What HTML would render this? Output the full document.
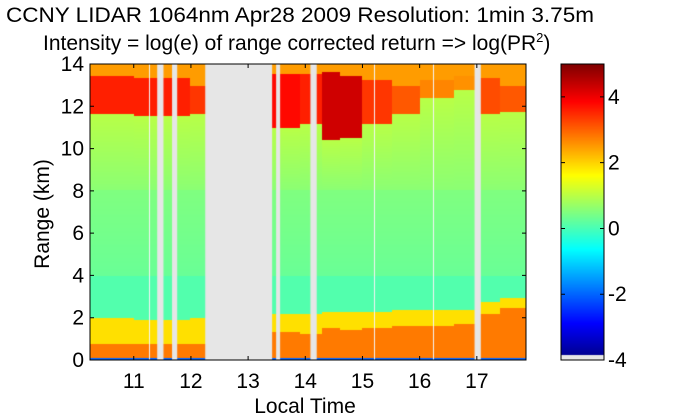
<!DOCTYPE html>
<html><head><meta charset="utf-8">
<style>
body{margin:0;background:#fff;width:700px;height:420px;overflow:hidden;font-family:"Liberation Sans",Arial,sans-serif}
#wrap{position:relative;width:700px;height:420px}
canvas{position:absolute;left:0;top:0}
svg{position:absolute;left:0;top:0}
</style></head>
<body>
<div id="wrap">
<canvas id="cv" width="700" height="420"></canvas>
<svg id="sv" width="700" height="420">
<text x="300" y="22" text-anchor="middle" font-size="21" textLength="588" lengthAdjust="spacingAndGlyphs">CCNY LIDAR 1064nm Apr28 2009 Resolution: 1min 3.75m</text>
<text x="43" y="50" font-size="21">Intensity = log(e) of range corrected return =&gt; log(PR<tspan dy="-8" font-size="13">2</tspan><tspan dy="8">)</tspan></text>
<text x="305" y="413" text-anchor="middle" font-size="21">Local Time</text>
<text transform="translate(49,214) rotate(-90)" text-anchor="middle" font-size="21">Range (km)</text>
<g id="axes"></g>
</svg>
</div>
<script>
// ---- data ----
const segStart  = [10.24, 11.0, 12.0, 13.43, 13.9, 14.3, 14.6, 15.0, 15.5, 16.0, 16.6, 17.07, 17.4];
const blTop     = [0.8, 0.75, 0.75, 1.3, 1.2, 1.5, 1.4, 1.5, 1.6, 1.6, 1.7, 2.2, 2.5];
const yellowTop = [2.0, 1.9, 2.0, 2.2, 2.2, 2.3, 2.3, 2.3, 2.4, 2.4, 2.4, 2.7, 2.9];
const cloudBase = [11.6, 11.5, 11.6, 11.0, 11.2, 10.4, 10.5, 11.2, 11.6, 12.4, 12.8, 11.6, 11.7];
const cloudTop  = [13.4, 13.3, 13.0, 13.5, 13.5, 13.6, 13.4, 13.2, 13.0, 13.2, 13.4, 13.3, 13.0];
const cloudVal  = [3.6, 3.6, 3.4, 3.8, 3.6, 4.3, 4.3, 3.4, 3.1, 2.7, 2.6, 3.2, 3.1];
const gaps      = [[11.41,11.52],[11.67,11.76],[12.25,13.42],[13.49,13.56],[14.09,14.2],[16.96,17.07]];
const thinLines = [11.26, 15.21, 16.23];
const xTicks = [11,12,13,14,15,16,17];
const yTicks = [0,2,4,6,8,10,12,14];
const cTicks = [-4,-2,0,2,4];
const X0=90, X1=526, Y0=64, Y1=360;
const T0=10.235, T1=17.86, CMIN=-4, CMAX=5;
const xs = t => X0 + (t-T0)/(T1-T0)*(X1-X0);
const ys = h => Y1 - h/14*(Y1-Y0);
const cs = v => 360 - (v-CMIN)/(CMAX-CMIN)*(360-64);
function jet(v){
  let n=(v-CMIN)/(CMAX-CMIN); n=Math.max(0,Math.min(1,n));
  const f=x=>Math.max(0,Math.min(1,x));
  const r=f(Math.min(4*n-1.5,-4*n+4.5)), g=f(Math.min(4*n-0.5,-4*n+3.5)), b=f(Math.min(4*n+0.5,-4*n+2.5));
  return `rgb(${Math.round(r*255)},${Math.round(g*255)},${Math.round(b*255)})`;
}
function seg(t){let i=0;for(let k=0;k<segStart.length;k++) if(t>=segStart[k]) i=k;return i;}
function val(t,h){
  const i=seg(t);
  if(h<0.12) return -2;
  if(h<blTop[i]) return 2.8;
  if(h<yellowTop[i]) return 1.9;
  if(h<4) return 0.1;
  if(h<8) return 0.3+0.2*(h-4)/4;
  if(h<cloudBase[i]) return 0.6+0.4*(h-8)/Math.max(0.1,cloudBase[i]-8);
  if(h<cloudTop[i]) return cloudVal[i];
  return 2.5;
}
const ctx=document.getElementById('cv').getContext('2d');
const step=2;
for(let x=X0;x<X1;x+=step){
  const t=T0+(x+step/2-X0)/(X1-X0)*(T1-T0);
  for(let y=Y0;y<Y1;y+=step){
    const h=(Y1-(y+step/2))/(Y1-Y0)*14;
    ctx.fillStyle=jet(val(t,h));
    ctx.fillRect(x,y,step,step);
  }
}
ctx.fillStyle='#e6e6e6';
gaps.forEach(g=>ctx.fillRect(xs(g[0]),Y0,xs(g[1])-xs(g[0]),Y1-Y0));
ctx.fillStyle='#f4f4f4';
thinLines.forEach(t=>ctx.fillRect(Math.round(xs(t)),Y0,1,Y1-Y0));
// colorbar
for(let y=64;y<356;y++){ctx.fillStyle=jet(CMAX-(y-64)/(360-64)*(CMAX-CMIN));ctx.fillRect(561,y,43,1);}
ctx.fillStyle='#e6e6e6';ctx.fillRect(561,355,43,5);

const NS='http://www.w3.org/2000/svg';
const ax=document.getElementById('axes');
function el(tag,attrs,txt){const e=document.createElementNS(NS,tag);for(const k in attrs)e.setAttribute(k,attrs[k]);if(txt!==undefined)e.textContent=txt;ax.appendChild(e);return e;}
const frame=el('rect',{x:X0,y:Y0,width:X1-X0,height:Y1-Y0,fill:'none',stroke:'#000','stroke-width':1});


xTicks.forEach(t=>{
  const x=xs(t);
  const l=el('path',{d:`M${x},${Y1}v-4M${x},${Y0}v4`,stroke:'#000'});
  
  
  const tx=el('text',{x:x,y:388,'text-anchor':'middle','font-size':21},String(t));
  
  
});
yTicks.forEach(v=>{
  const y=ys(v);
  const l=el('path',{d:`M${X0},${y}h4M${X1},${y}h-4`,stroke:'#000'});
  
  
  const tx=el('text',{x:84,y:y+7,'text-anchor':'end','font-size':21},String(v));
  
  
});
const cb=el('rect',{x:561,y:64,width:43,height:296,fill:'none',stroke:'#000'});


cTicks.forEach(v=>{
  const y=cs(v);
  const l=el('path',{d:`M561,${y}h4M604,${y}h-4`,stroke:'#000'});
  
  
  const tx=el('text',{x:608,y:y+7,'font-size':21},String(v));
  
  
});
</script>
</body></html>
